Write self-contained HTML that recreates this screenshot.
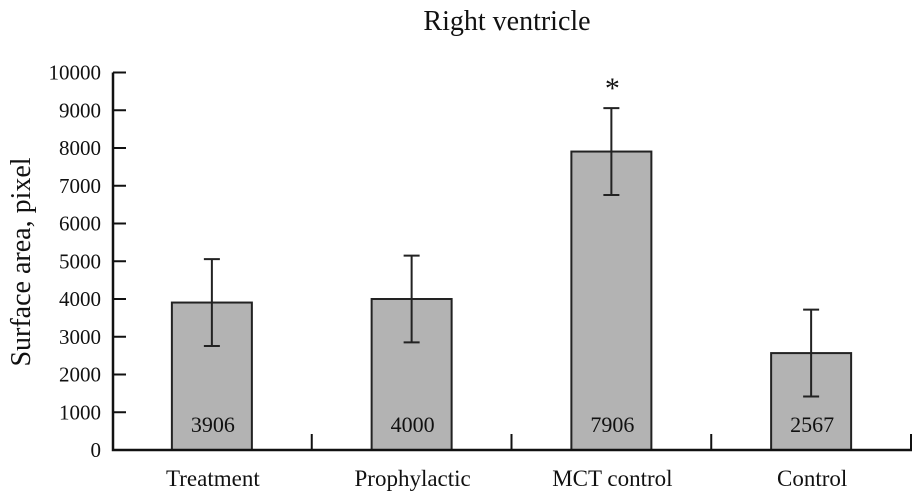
<!DOCTYPE html>
<html><head><meta charset="utf-8"><style>
body{margin:0;background:#fff}
svg{display:block;font-family:"Liberation Serif",serif}
</style></head><body>
<svg id="c" width="912" height="494"></svg>
<script>
const categories=["Treatment","Prophylactic","MCT control","Control"];
const values=[3906,4000,7906,2567];
const errors=[1150,1150,1150,1150];
const valueLabels=["3906","4000","7906","2567"];
const yTicks=[0,1000,2000,3000,4000,5000,6000,7000,8000,9000,10000];
const sigFlags=[false,false,true,false];

const svg=document.getElementById('c');
const NS='http://www.w3.org/2000/svg';
const x0=113,x1=912,yBase=450,yTop=72.5,yMax=10000;
const y=v=>yBase-(v/yMax)*(yBase-yTop);
const bw=(x1-x0)/categories.length;
const cx=i=>x0+bw*(i+0.5)-1;
function mk(t,a,txt){const e=document.createElementNS(NS,t);for(const k in a)e.setAttribute(k,a[k]);if(txt!=null)e.textContent=txt;svg.appendChild(e);return e;}

let t=mk('text',{x:507,y:30,'text-anchor':'middle','font-size':28,fill:'#111'},'Right ventricle');


t=mk('text',{x:0,y:0,'text-anchor':'middle','font-size':28,fill:'#111',transform:'translate(30,262) rotate(-90)'},'Surface area, pixel');



yTicks.forEach(v=>{
  const l=mk('line',{x1:x0,x2:x0+13,y1:y(v),y2:y(v),stroke:'#111','stroke-width':2});
  
  
  const tx=mk('text',{x:101,y:y(v)+7,'text-anchor':'end','font-size':21,fill:'#111'},String(v));
  
  
});

categories.forEach((c,i)=>{
  const r=mk('rect',{x:cx(i)-40,y:y(values[i]),width:80,height:yBase-y(values[i]),fill:'#b3b3b3',stroke:'#222','stroke-width':2});
  
  
  const hi=y(values[i]+errors[i]),lo=y(values[i]-errors[i]);
  const e=mk('path',{d:`M${cx(i)} ${hi}V${lo}M${cx(i)-8} ${hi}H${cx(i)+8}M${cx(i)-8} ${lo}H${cx(i)+8}`,stroke:'#222','stroke-width':2,fill:'none'});
  
  
  const vl=mk('text',{x:cx(i)+1,y:432,'text-anchor':'middle','font-size':22,fill:'#111'},valueLabels[i]);
  
  
  const cl=mk('text',{x:cx(i)+1,y:486,'text-anchor':'middle','font-size':23,fill:'#111'},c);
  
  
  const tk=mk('line',{x1:x0+bw*(i+1)-1,x2:x0+bw*(i+1)-1,y1:yBase,y2:yBase-16,stroke:'#111','stroke-width':2});
  
  
  if(sigFlags[i]){
    const s=mk('text',{x:cx(i)+1,y:y(values[i]+errors[i])-10,'text-anchor':'middle','font-size':30,fill:'#111'},'*');
    
    
  }
});

const ax=mk('path',{d:`M${x0} ${yTop}V${yBase}H${x1}`,stroke:'#111','stroke-width':2.5,fill:'none'});


</script>
</body></html>
